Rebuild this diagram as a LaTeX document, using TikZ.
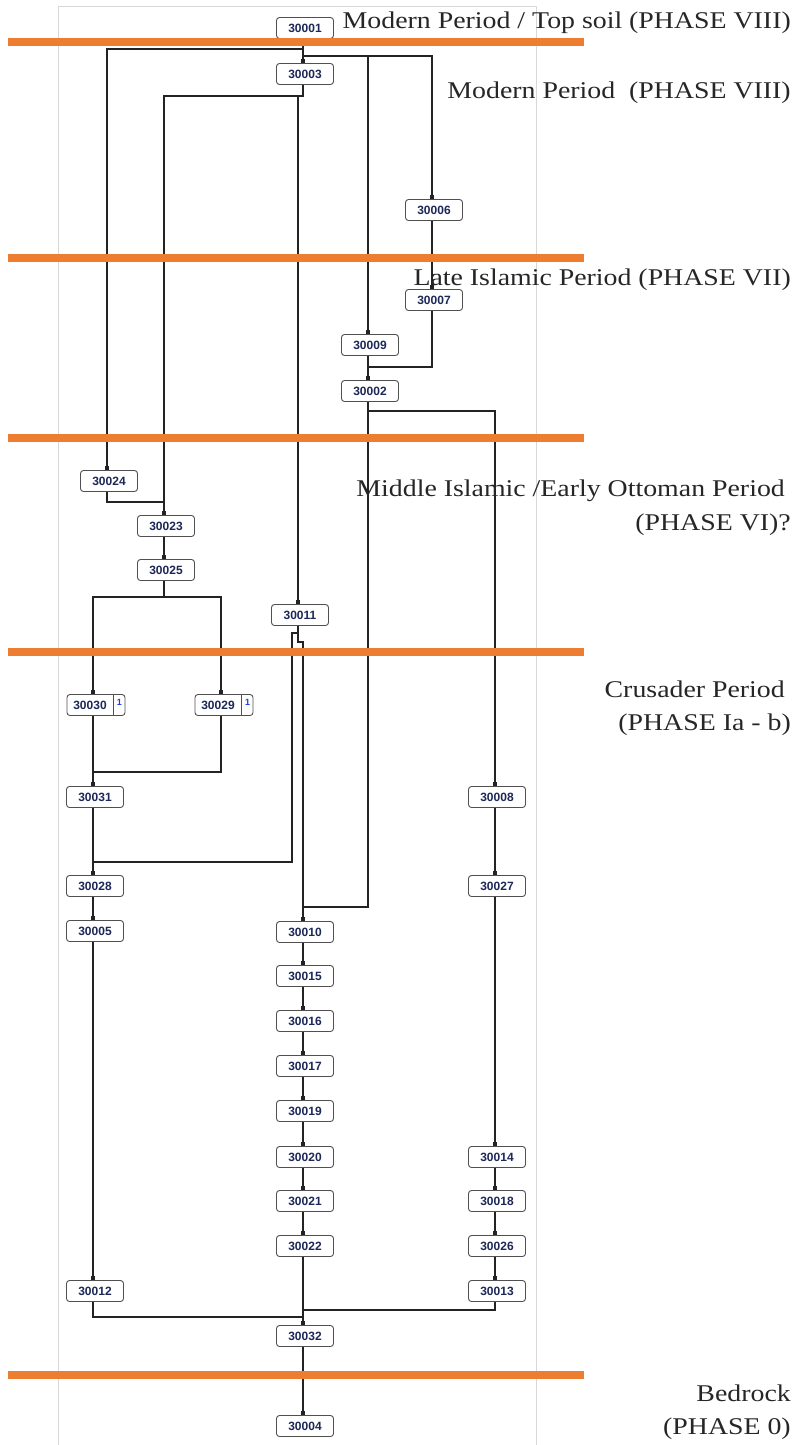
\documentclass[tikz,border=0pt]{standalone}
\usepackage{fontspec}
\usetikzlibrary{arrows.meta}
\newfontfamily\boxfont{Liberation Sans}
\newfontfamily\labfont[FakeStretch=1.16]{Liberation Serif}
\definecolor{barorange}{RGB}{237,125,49}
\definecolor{boxtextcol}{RGB}{28,40,88}
\definecolor{boxline}{RGB}{80,80,80}
\definecolor{framegray}{RGB}{215,215,215}
\definecolor{conncol}{RGB}{35,35,35}
\definecolor{badgeblue}{RGB}{30,60,230}
\tikzset{
  unit/.style={draw=boxline, line width=0.9pt, rounded corners=3pt, fill=white,
    minimum width=57pt, minimum height=21pt, inner sep=0pt,
    font=\boxfont\bfseries\fontsize{12}{12}\selectfont, text=boxtextcol},
  unitwide/.style={unit, minimum width=58pt},
  unittext/.style={inner sep=0pt, font=\boxfont\bfseries\fontsize{12}{12}\selectfont, text=boxtextcol},
  badge/.style={inner sep=0pt, font=\boxfont\bfseries\fontsize{9}{9}\selectfont, text=badgeblue},
  conn/.style={draw=conncol, line width=1.1pt, -{Square[length=3.6pt,width=3.6pt]}},
  bar/.style={draw=barorange, line width=7.5pt},
  phaselab/.style={anchor=base east, inner sep=0pt, font=\labfont\fontsize{24}{24}\selectfont, text=black!85}
}
\begin{document}
\begin{tikzpicture}[x=1pt,y=-1pt]
\useasboundingbox (0,0) rectangle (793,1445);
% frame
\draw[framegray, line width=0.8pt] (58,1445) -- (58,6) -- (536,6) -- (536,1445);

% nodes
\node[unit] (n30001) at (305,28) {30001};
\node[unit] (n30003) at (305,74) {30003};
\node[unit] (n30006) at (434,210) {30006};
\node[unit] (n30007) at (434,300) {30007};
\node[unit] (n30009) at (370,345) {30009};
\node[unit] (n30002) at (370,391) {30002};
\node[unit] (n30024) at (109,481) {30024};
\node[unit] (n30023) at (166,526) {30023};
\node[unit] (n30025) at (166,570) {30025};
\node[unit] (n30011) at (300,615) {30011};
\node[unitwide] (n30030) at (96,705) {};
\node[unittext] (t30030) at (90,705) {30030};
\node[badge] (b30030) at (119.5,702) {1};
\node[unitwide] (n30029) at (224,705) {};
\node[unittext] (t30029) at (218,705) {30029};
\node[badge] (b30029) at (247.5,702) {1};
\node[unit] (n30031) at (95,797) {30031};
\node[unit] (n30008) at (497,797) {30008};
\node[unit] (n30028) at (95,886) {30028};
\node[unit] (n30027) at (497,886) {30027};
\node[unit] (n30005) at (95,931) {30005};
\node[unit] (n30010) at (305,932) {30010};
\node[unit] (n30015) at (305,976) {30015};
\node[unit] (n30016) at (305,1021) {30016};
\node[unit] (n30017) at (305,1066) {30017};
\node[unit] (n30019) at (305,1111) {30019};
\node[unit] (n30020) at (305,1157) {30020};
\node[unit] (n30014) at (497,1157) {30014};
\node[unit] (n30021) at (305,1201) {30021};
\node[unit] (n30018) at (497,1201) {30018};
\node[unit] (n30022) at (305,1246) {30022};
\node[unit] (n30026) at (497,1246) {30026};
\node[unit] (n30012) at (95,1291) {30012};
\node[unit] (n30013) at (497,1291) {30013};
\node[unit] (n30032) at (305,1336) {30032};
\node[unit] (n30004) at (305,1426) {30004};
% badge separators
\draw[boxline, line width=0.9pt] ([xshift=-12pt]n30030.north east) -- ([xshift=-12pt]n30030.south east);
\draw[boxline, line width=0.9pt] ([xshift=-12pt]n30029.north east) -- ([xshift=-12pt]n30029.south east);

% connectors
\draw[conn] ([xshift=-2pt]n30001.south) -- ([xshift=-2pt]n30003.north);
\draw[conn] ([xshift=-2pt]n30001.south) |- (107,49) -- ([xshift=-2pt]n30024.north);
\draw[conn] ([xshift=-2pt]n30001.south) |- (368,56) -- ([xshift=-2pt]n30009.north);
\draw[conn] ([xshift=-2pt]n30001.south) |- (432,56) -- ([xshift=-2pt]n30006.north);
\draw[conn] ([xshift=-2pt]n30003.south) |- (164,96) -- ([xshift=-2pt]n30023.north);
\draw[conn] ([xshift=-2pt]n30003.south) |- (298,96) -- ([xshift=-2pt]n30011.north);
\draw[conn] ([xshift=-2pt]n30006.south) -- ([xshift=-2pt]n30007.north);
\draw[conn] ([xshift=-2pt]n30007.south) |- (368,367) -- ([xshift=-2pt]n30002.north);
\draw[conn] ([xshift=-2pt]n30009.south) -- ([xshift=-2pt]n30002.north);
\draw[conn] ([xshift=-2pt]n30002.south) |- (495,411) -- ([xshift=-2pt]n30008.north);
\draw[conn] ([xshift=-2pt]n30002.south) -- (368,907) -| ([xshift=-2pt]n30010.north);
\draw[conn] ([xshift=-2pt]n30024.south) |- (164,502) -- ([xshift=-2pt]n30023.north);
\draw[conn] ([xshift=-2pt]n30023.south) -- ([xshift=-2pt]n30025.north);
\draw[conn] ([xshift=-2pt]n30025.south) |- (93,597) -- ([xshift=-3pt]n30030.north);
\draw[conn] ([xshift=-2pt]n30025.south) |- (221,597) -- ([xshift=-3pt]n30029.north);
\draw[conn] ([xshift=-3pt]n30030.south) -- ([xshift=-2pt]n30031.north);
\draw[conn] ([xshift=-3pt]n30029.south) |- (93,772) -- ([xshift=-2pt]n30031.north);
\draw[conn] ([xshift=-2pt]n30031.south) -- ([xshift=-2pt]n30028.north);
\draw[conn] ([xshift=-2pt]n30011.south) -- (298,633) -- (292,633) |- (93,862) -- ([xshift=-2pt]n30028.north);
\draw[conn] ([xshift=-2pt]n30011.south) -- (298,642) -- (303,642) -- ([xshift=-2pt]n30010.north);
\draw[conn] ([xshift=-2pt]n30028.south) -- ([xshift=-2pt]n30005.north);
\draw[conn] ([xshift=-2pt]n30005.south) -- ([xshift=-2pt]n30012.north);
\draw[conn] ([xshift=-2pt]n30010.south) -- ([xshift=-2pt]n30015.north);
\draw[conn] ([xshift=-2pt]n30015.south) -- ([xshift=-2pt]n30016.north);
\draw[conn] ([xshift=-2pt]n30016.south) -- ([xshift=-2pt]n30017.north);
\draw[conn] ([xshift=-2pt]n30017.south) -- ([xshift=-2pt]n30019.north);
\draw[conn] ([xshift=-2pt]n30019.south) -- ([xshift=-2pt]n30020.north);
\draw[conn] ([xshift=-2pt]n30020.south) -- ([xshift=-2pt]n30021.north);
\draw[conn] ([xshift=-2pt]n30021.south) -- ([xshift=-2pt]n30022.north);
\draw[conn] ([xshift=-2pt]n30022.south) -- ([xshift=-2pt]n30032.north);
\draw[conn] ([xshift=-2pt]n30008.south) -- ([xshift=-2pt]n30027.north);
\draw[conn] ([xshift=-2pt]n30027.south) -- ([xshift=-2pt]n30014.north);
\draw[conn] ([xshift=-2pt]n30014.south) -- ([xshift=-2pt]n30018.north);
\draw[conn] ([xshift=-2pt]n30018.south) -- ([xshift=-2pt]n30026.north);
\draw[conn] ([xshift=-2pt]n30026.south) -- ([xshift=-2pt]n30013.north);
\draw[conn] ([xshift=-2pt]n30012.south) |- (303,1317) -- ([xshift=-2pt]n30032.north);
\draw[conn] ([xshift=-2pt]n30013.south) |- (303,1310) -- ([xshift=-2pt]n30032.north);
\draw[conn] ([xshift=-2pt]n30032.south) -- ([xshift=-2pt]n30004.north);

% phase bars
\draw[bar] (8,42) -- (584,42);
\draw[bar] (8,258) -- (584,258);
\draw[bar] (8,438) -- (584,438);
\draw[bar] (8,652) -- (584,652);
\draw[bar] (8,1375) -- (584,1375);

% phase labels
\node[phaselab] (l1) at (791,29) {Modern Period / Top soil (PHASE VIII)};
\node[phaselab] (l2) at (791,98) {Modern Period~ (PHASE VIII)};
\node[phaselab] (l3) at (791,285) {Late Islamic Period (PHASE VII)};
\node[phaselab] (l4a) at (785,496) {Middle Islamic /Early Ottoman Period};
\node[phaselab] (l4b) at (791,530) {(PHASE VI)?};
\node[phaselab] (l5a) at (785,697) {Crusader Period};
\node[phaselab] (l5b) at (791,730) {(PHASE Ia - b)};
\node[phaselab] (l6a) at (791,1401) {Bedrock};
\node[phaselab] (l6b) at (791,1434) {(PHASE 0)};
\end{tikzpicture}
\end{document}
